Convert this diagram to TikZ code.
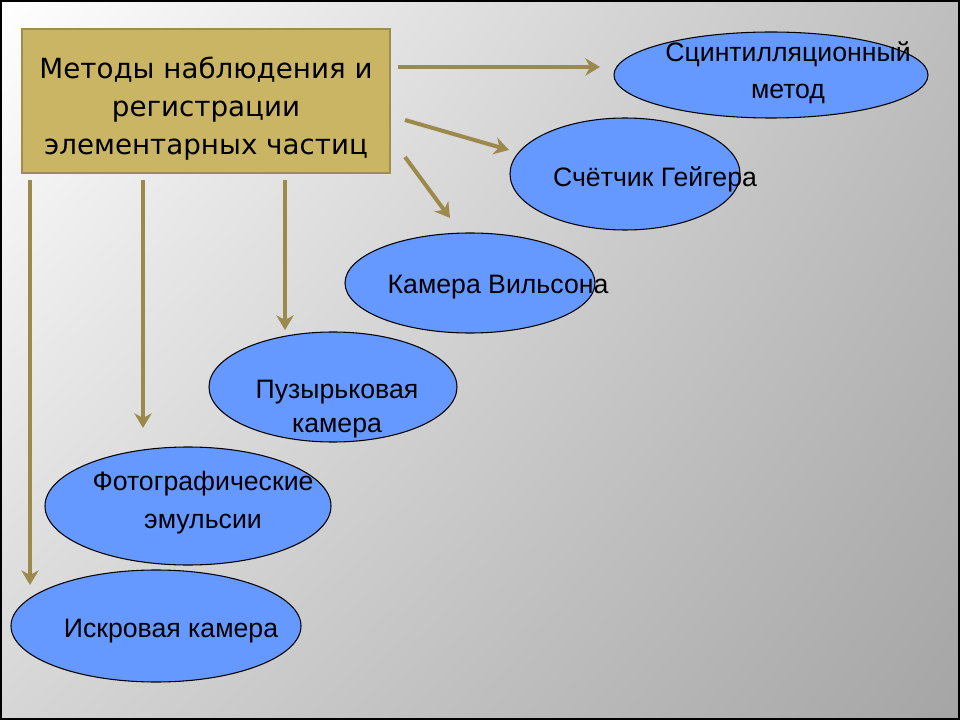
\documentclass[tikz,border=0pt]{standalone}
\usepackage{fontspec}
\setmainfont{Liberation Sans}
\newfontfamily\boxfont{DejaVu Sans}
\usetikzlibrary{shapes.geometric,arrows.meta,shadings}
\definecolor{boxfill}{RGB}{201,181,100}
\definecolor{boxline}{RGB}{158,140,80}
\definecolor{arrcol}{RGB}{155,138,75}
\definecolor{ellfill}{RGB}{102,153,255}
\definecolor{bgul}{RGB}{255,255,255}
\definecolor{bgur}{RGB}{190,190,190}
\definecolor{bgll}{RGB}{214,214,214}
\definecolor{bglr}{RGB}{165,165,165}
\begin{document}
\begin{tikzpicture}[x=0.75pt,y=-0.75pt,
  ell/.style={ellipse, draw=black, line width=0.8pt, fill=ellfill, inner sep=0pt},
  lbl/.style={font=\fontsize{20}{25}\selectfont, align=center, inner sep=0pt, text=black},
  arr/.style={draw=arrcol, line width=3pt, -{Stealth[length=11pt,width=13pt,inset=3.5pt]}}]
\useasboundingbox (0,0) rectangle (960,720);
\shade[upper left=bgul, upper right=bgur, lower left=bgll, lower right=bglr] (0,0) rectangle (960,720);
\draw[black, line width=1.5pt] (1,1) rectangle (959,719);

\node[draw=boxline, line width=2pt, fill=boxfill, minimum width=276pt, minimum height=108pt,
  inner sep=0pt] (title) at (206,101) {};
\node[align=center, inner sep=0pt, font=\boxfont\fontsize{20.8}{28.5}\selectfont] (titletext) at (206,109)
  {Методы наблюдения и\\регистрации\\элементарных частиц};

\node[ell, minimum width=235.5pt, minimum height=64.5pt] (e1) at (771,75) {};
\node[ell, minimum width=172.5pt, minimum height=84pt] (e2) at (625,174) {};
\node[ell, minimum width=187.5pt, minimum height=75pt] (e3) at (470,283) {};
\node[ell, minimum width=186pt, minimum height=82.5pt] (e4) at (333,387) {};
\node[ell, minimum width=214.5pt, minimum height=88.5pt] (e5) at (188,506) {};
\node[ell, minimum width=217.5pt, minimum height=84pt] (e6) at (156,626) {};

\node[lbl, font=\fontsize{20}{27.5}\selectfont] (t1) at (788,73) {Сцинтилляционный\\метод};
\node[lbl] (t2) at (655,179) {Счётчик Гейгера};
\node[lbl] (t3) at (498,287) {Камера Вильсона};
\node[lbl] (t4) at (337,409) {Пузырьковая\\камера};
\node[lbl, font=\fontsize{20}{28.5}\selectfont] (t5) at (203,503) {Фотографические\\эмульсии};
\node[lbl] (t6) at (171,631) {Искровая камера};

\coordinate (a1s) at (398,67);  \coordinate (a1e) at (600,67);
\coordinate (a2s) at (405,120); \coordinate (a2e) at (509,150);
\coordinate (a3s) at (405,157); \coordinate (a3e) at (450,218);
\coordinate (a4s) at (30,180);  \coordinate (a4e) at (30,585);
\coordinate (a5s) at (143,180); \coordinate (a5e) at (143,428);
\coordinate (a6s) at (285,180); \coordinate (a6e) at (285,330);

\draw[arr] (a1s) -- (a1e);
\draw[arr] (a2s) -- (a2e);
\draw[arr] (a3s) -- (a3e);
\draw[arr] (a4s) -- (a4e);
\draw[arr] (a5s) -- (a5e);
\draw[arr] (a6s) -- (a6e);
\end{tikzpicture}
\end{document}
